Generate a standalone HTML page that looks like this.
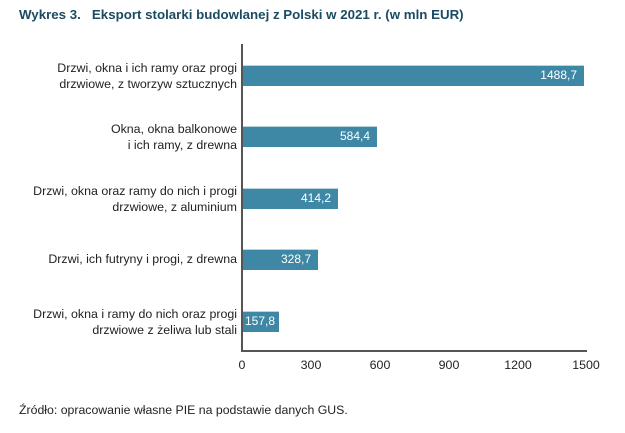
<!DOCTYPE html>
<html><head><meta charset="utf-8"><style>
body{margin:0;width:625px;height:433px;background:#fff;position:relative;font-family:"Liberation Sans",sans-serif;overflow:hidden}
.t{position:absolute;left:19px;top:7px;font-size:13.3px;font-weight:bold;color:#1b4a62;white-space:pre}
.l{position:absolute;right:388px;text-align:right;font-size:12.4px;line-height:16px;color:#222;white-space:nowrap}
.b{position:absolute;left:243px;height:20px;background:#3f88a5;border-top:1px solid #b9d4df}
.v{position:absolute;color:#fff;font-size:12px;line-height:20px;text-align:right}
.x{position:absolute;top:358px;font-size:12.4px;color:#222;width:50px;text-align:center}
.s{position:absolute;left:19px;top:403px;font-size:12.3px;color:#222}
</style></head><body>
<div class="t">Wykres 3.   Eksport stolarki budowlanej z Polski w 2021 r. (w mln EUR)</div>
<div style="position:absolute;left:241px;top:44px;width:1.5px;height:308px;background:#555"></div>
<div style="position:absolute;left:241px;top:350px;width:346px;height:1.5px;background:#555"></div>

<div class="l" style="top:60px">Drzwi, okna i ich ramy oraz progi<br>drzwiowe, z tworzyw sztucznych</div>
<div class="b" style="top:65px;width:341px"></div><div class="v" style="top:65px;left:243px;width:334px">1488,7</div>

<div class="l" style="top:121px">Okna, okna balkonowe<br>i ich ramy, z drewna</div>
<div class="b" style="top:126px;width:134px"></div><div class="v" style="top:126px;left:243px;width:127px">584,4</div>

<div class="l" style="top:183px">Drzwi, okna oraz ramy do nich i progi<br>drzwiowe, z aluminium</div>
<div class="b" style="top:188px;width:95px"></div><div class="v" style="top:188px;left:243px;width:88px">414,2</div>

<div class="l" style="top:251px">Drzwi, ich futryny i progi, z drewna</div>
<div class="b" style="top:249px;width:75px"></div><div class="v" style="top:249px;left:243px;width:68px">328,7</div>

<div class="l" style="top:306px">Drzwi, okna i ramy do nich oraz progi<br>drzwiowe z żeliwa lub stali</div>
<div class="b" style="top:311px;width:36px"></div><div class="v" style="top:311px;left:243px;width:32px">157,8</div>

<div class="x" style="left:217px">0</div>
<div class="x" style="left:286px">300</div>
<div class="x" style="left:355px">600</div>
<div class="x" style="left:424px">900</div>
<div class="x" style="left:493px">1200</div>
<div class="x" style="left:561px">1500</div>
<div class="s">Źródło: opracowanie własne PIE na podstawie danych GUS.</div>
</body></html>
